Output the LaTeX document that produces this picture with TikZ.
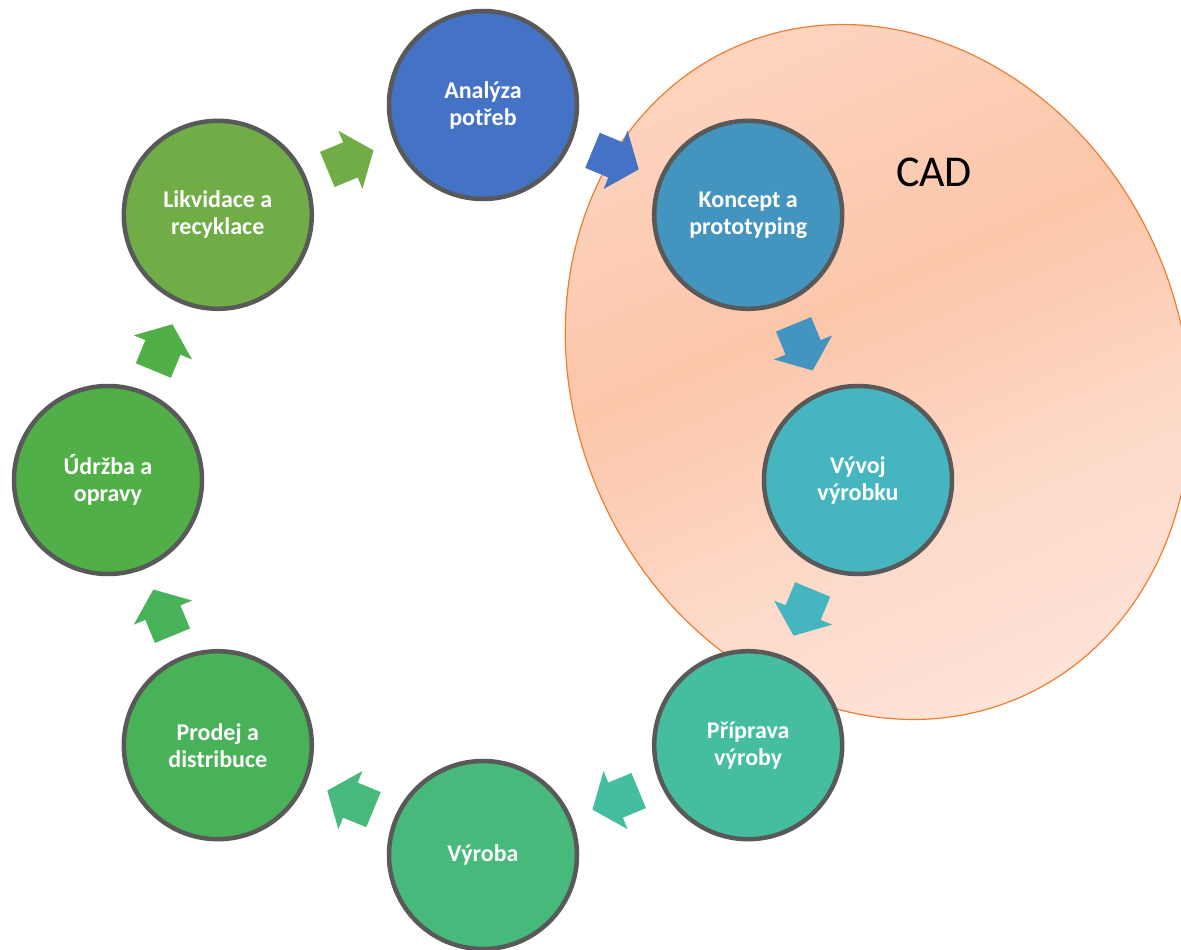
\documentclass[tikz,border=0pt]{standalone}
\usepackage{fontspec}
\setmainfont{Carlito}
\usetikzlibrary{calc}

% stage colours
\definecolor{cA}{HTML}{4472C4}
\definecolor{cK}{HTML}{4395C0}
\definecolor{cV}{HTML}{45B6BF}
\definecolor{cP}{HTML}{45BE9F}
\definecolor{cY}{HTML}{46B97B}
\definecolor{cR}{HTML}{47B257}
\definecolor{cU}{HTML}{51AF48}
\definecolor{cL}{HTML}{70AD47}
\definecolor{ringgray}{HTML}{595959}
% CAD region
\definecolor{cadline}{HTML}{ED7D31}
\definecolor{cadA}{HTML}{FEE5DA}
\definecolor{cadB}{HTML}{FDD8C6}
\definecolor{cadC}{HTML}{FCC6A9}
\definecolor{cadD}{HTML}{FDD3BE}
\pgfdeclareverticalshading{cadshade}{100bp}{color(0bp)=(cadA); color(25bp)=(cadA);
  color(42.5bp)=(cadB); color(57.5bp)=(cadC); color(75bp)=(cadD); color(100bp)=(cadD)}

\tikzset{
  stage/.style={circle, draw=ringgray, line width=4.5pt, minimum size=188pt,
    inner sep=0pt, text=white, align=flush center,
    font=\bfseries\fontsize{24}{27}\selectfont},
  cadlabel/.style={font=\fontsize{44}{50}\selectfont, text=black},
}

% block arrow halfway between two stages, pointing from #1 to #2
\newcommand\cyclearrow[3]{%
  \fill[#3] let \p1=($(#2)-(#1)$), \n1={atan2(\y1,\x1)} in
    [shift={($(#1)!0.5!(#2)$)}, rotate=\n1]
    (-25,-19) -- (0,-19) -- (0,-31.5) -- (25,0) -- (0,31.5) -- (0,19) -- (-25,19) -- cycle;}

\begin{document}
\begin{tikzpicture}[x=1pt, y=-1pt]
  \useasboundingbox (0,0) rectangle (1181,950);
  \clip (0,0) rectangle (1181,950);

  % CAD region
  \path[shade, shading=cadshade, shading angle=23.5, draw=cadline, line width=1.2pt,
        rotate around={23.5:(878,372)}] (878,372) ellipse [x radius=304, y radius=355];
  \node[cadlabel] (cad) at (934,172) {CAD};

  % stages of the product life cycle
  \node[stage, fill=cA] (A) at (483,105)     {Analýza\\potřeb};
  \node[stage, fill=cK] (K) at (748.2,214.8) {Koncept a\\prototyping};
  \node[stage, fill=cV] (V) at (858,480)     {Vývoj\\výrobku};
  \node[stage, fill=cP] (P) at (748.2,745.2) {Příprava\\výroby};
  \node[stage, fill=cY] (Y) at (483,855)     {Výroba};
  \node[stage, fill=cR] (R) at (217.8,745.2) {Prodej a\\distribuce};
  \node[stage, fill=cU] (U) at (108,480)     {Údržba a\\opravy};
  \node[stage, fill=cL] (L) at (217.8,214.8) {Likvidace a\\recyklace};

  % arrows between stages
  \cyclearrow{A}{K}{cA}
  \cyclearrow{K}{V}{cK}
  \cyclearrow{V}{P}{cV}
  \cyclearrow{P}{Y}{cP}
  \cyclearrow{Y}{R}{cY}
  \cyclearrow{R}{U}{cR}
  \cyclearrow{U}{L}{cU}
  \cyclearrow{L}{A}{cL}
\end{tikzpicture}
\end{document}
